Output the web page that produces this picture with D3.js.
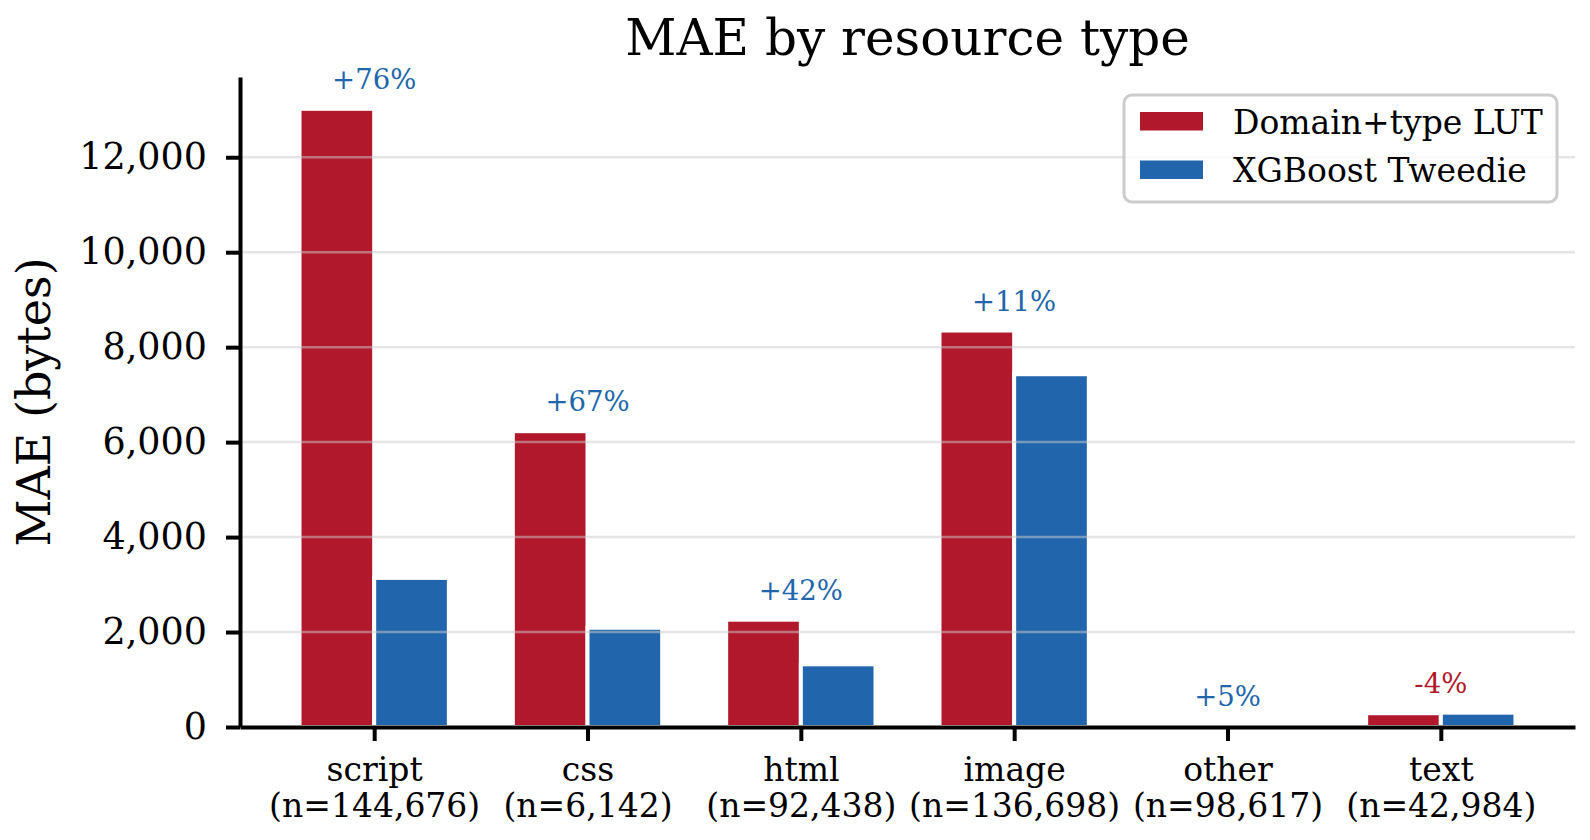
<!DOCTYPE html>
<html>
<head>
<meta charset="utf-8">
<script src="https://cdn.jsdelivr.net/npm/d3@7"></script>
<style>
  body { margin: 0; background: #fff; }
  svg { display: block; font-family: "DejaVu Serif", serif; }
</style>
</head>
<body>
<div id="chart"></div>
<script>
// MAE per resource type, two models

const categories = ["script", "css", "html", "image", "other", "text"];
const counts = ["144,676", "6,142", "92,438", "136,698", "98,617", "42,984"];
const lutMae = [13020, 6230, 2260, 8350, 15, 290];
const xgbMae = [3140, 2090, 1320, 7430, 14, 302];
const deltaLabels = ["+76%", "+67%", "+42%", "+11%", "+5%", "-4%"];
const yTicks = [0, 2000, 4000, 6000, 8000, 10000, 12000];
const seriesNames = ["Domain+type LUT", "XGBoost Tweedie"];

const RED = "#b2182b", BLUE = "#2166ac";

const W = 1590, H = 840;
const plotL = 240, plotR = 1575, plotT = 77, plotB = 727;

const svg = d3.select("#chart").append("svg")
  .attr("width", W).attr("height", H);

svg.append("rect").attr("width", W).attr("height", H).attr("fill", "#fff");

const x = d3.scalePoint()
  .domain(categories)
  .range([plotL, plotR])
  .padding(0.629);

const y = d3.scaleLinear()
  .domain([0, 13690])
  .range([plotB, plotT]);

const barW = x.step() * 0.35;

const rows = categories.map((c, i) => ({
  cat: c, n: counts[i], lut: lutMae[i], xgb: xgbMae[i], label: deltaLabels[i]
}));

// bars
svg.append("g").selectAll("rect.lut")
  .data(rows).enter().append("rect")
  .attr("x", d => x(d.cat) - barW)
  .attr("y", d => y(d.lut))
  .attr("width", barW)
  .attr("height", d => y(0) - y(d.lut))
  .attr("fill", RED)
  .attr("stroke", "#fff").attr("stroke-width", 4);

svg.append("g").selectAll("rect.xgb")
  .data(rows).enter().append("rect")
  .attr("x", d => x(d.cat))
  .attr("y", d => y(d.xgb))
  .attr("width", barW)
  .attr("height", d => y(0) - y(d.xgb))
  .attr("fill", BLUE)
  .attr("stroke", "#fff").attr("stroke-width", 4);

// grid on top of bars (like matplotlib default)
svg.append("g").selectAll("line")
  .data(yTicks.filter(t => t > 0)).enter().append("line")
  .attr("x1", plotL).attr("x2", plotR)
  .attr("y1", d => y(d)).attr("y2", d => y(d))
  .attr("stroke", "#cccccc").attr("stroke-opacity", 0.5)
  .attr("stroke-width", 2.5);

// delta labels
svg.append("g").selectAll("text")
  .data(rows).enter().append("text")
  .attr("x", d => x(d.cat))
  .attr("y", d => y(Math.max(d.lut, d.xgb)) - 20)
  .attr("text-anchor", "middle")
  .style("font-size", "27.5px")
  .attr("fill", d => d.label.startsWith("-") ? RED : BLUE)
  .text(d => d.label);

// y axis
const yAxis = svg.append("g")
  .attr("transform", `translate(${plotL},0)`)
  .call(d3.axisLeft(y).tickValues(yTicks).tickFormat(d3.format(","))
    .tickSize(14).tickSizeOuter(0).tickPadding(19));
yAxis.selectAll("text").style("font-size", "36.5px").attr("fill", "#000")
  .style("font-family", "DejaVu Serif");
yAxis.selectAll("line, path").attr("stroke", "#000").attr("stroke-width", 4);

// x axis
const xAxis = svg.append("g")
  .attr("transform", `translate(0,${plotB})`)
  .call(d3.axisBottom(x).tickSize(14).tickSizeOuter(0));
xAxis.selectAll("line, path").attr("stroke", "#000").attr("stroke-width", 4);
xAxis.selectAll("text").each(function(d, i) {
  const t = d3.select(this);
  t.text(null).attr("y", 54).attr("dy", null)
    .style("font-size", "33px").style("font-family", "DejaVu Serif")
    .attr("fill", "#000");
  t.append("tspan").attr("x", 0).text(d);
  t.append("tspan").attr("x", 0).attr("dy", 36).text(`(n=${counts[i]})`);
});

// title
svg.append("text")
  .attr("x", (plotL + plotR) / 2).attr("y", 55)
  .attr("text-anchor", "middle")
  .style("font-size", "50px")
  .text("MAE by resource type");

// y label
svg.append("text")
  .attr("transform", "rotate(-90)")
  .attr("x", -(plotT + plotB) / 2).attr("y", 50)
  .attr("text-anchor", "middle")
  .style("font-size", "46px")
  .text("MAE (bytes)");

// legend
const legend = svg.append("g").attr("transform", "translate(1124,95)");
legend.append("rect")
  .attr("width", 433).attr("height", 107).attr("rx", 8)
  .attr("fill", "#fff").attr("fill-opacity", 0.8)
  .attr("stroke", "#cccccc").attr("stroke-width", 3);
[RED, BLUE].forEach((c, i) => {
  legend.append("rect")
    .attr("x", 16).attr("y", 17 + i * 48.5)
    .attr("width", 63).attr("height", 18.5)
    .attr("fill", c);
  legend.append("text")
    .attr("x", 109).attr("y", 38.5 + i * 48.5)
    .style("font-size", "33px")
    .text(seriesNames[i]);
});
</script>
</body>
</html>
